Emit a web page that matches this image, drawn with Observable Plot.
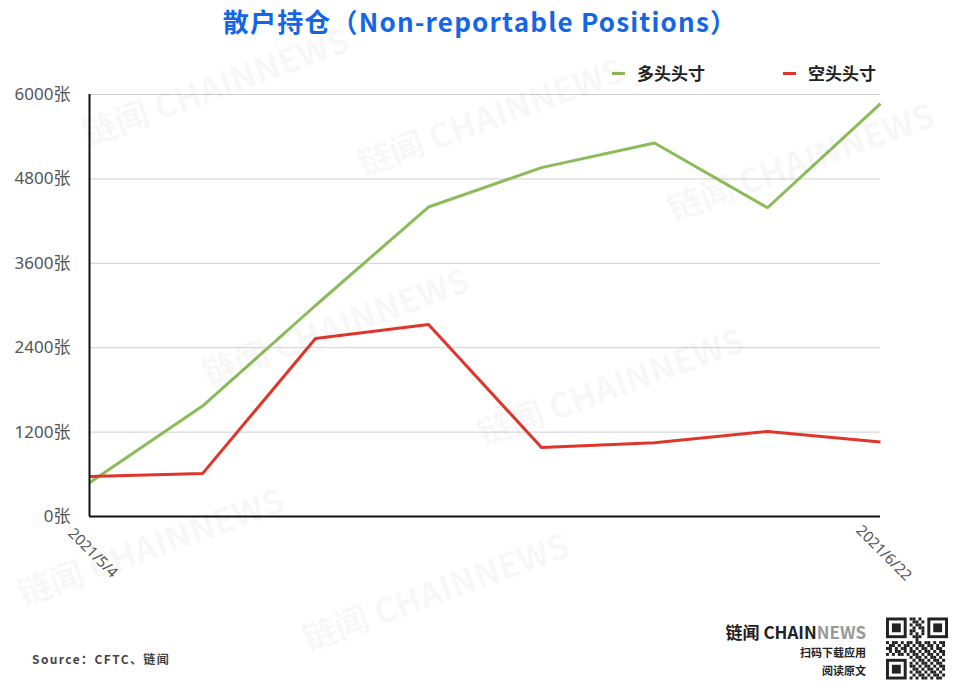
<!DOCTYPE html>
<html>
<head>
<meta charset="utf-8">
<script src="https://cdn.jsdelivr.net/npm/d3@7"></script>
<script src="https://cdn.jsdelivr.net/npm/@observablehq/plot@0.6"></script>
<style>
  html, body { margin: 0; padding: 0; background: #fff; }
  #wrap { position: relative; width: 960px; height: 693px; overflow: hidden; font-family: "Noto Sans CJK SC", "Noto Sans", sans-serif; }
  .abs { position: absolute; white-space: nowrap; }
  #title { left: 0; width: 960px; top: 2px; text-align: center; font-size: 26px; font-weight: 700; color: #1466e6; letter-spacing: 1.2px; }
  .leg { top: 60px; font-size: 17px; font-weight: 700; color: #222; }
  .sw { position: absolute; width: 13px; height: 3px; top: 72px; }
  .wm { position: absolute; font-size: 34px; font-weight: 700; color: rgba(0,0,0,0.045); transform: translate(-50%,-50%) rotate(-20deg); white-space: nowrap; font-family: "Noto Sans CJK SC", sans-serif; }
  #src { left: 32px; top: 650px; font-size: 12px; font-weight: 700; color: #444; letter-spacing: 1.4px; }
  #logo { right: 94px; top: 619px; font-size: 17px; font-weight: 700; color: #222; font-family: "Noto Sans CJK SC", Lato, sans-serif; }
  .sub { right: 94px; font-size: 11px; font-weight: 700; color: #222; }
  #qr { left: 886px; top: 617px; width: 62px; height: 63px; }
</style>
</head>
<body>
<div id="wrap">
  <div id="chart" class="abs" style="left:0;top:0"></div>
  <div id="title" class="abs">散户持仓（Non-reportable Positions）</div>
  <div class="sw" style="left:612px;background:#8cbb59"></div>
  <div class="abs leg" style="left:637px">多头头寸</div>
  <div class="sw" style="left:783px;background:#e0352b"></div>
  <div class="abs leg" style="left:808px">空头头寸</div>
  <div id="src" class="abs">Source：CFTC、链闻</div>
  <div id="logo" class="abs">链闻 CHAIN<span style="color:#999">NEWS</span></div>
  <div class="abs sub" style="top:644px">扫码下载应用</div>
  <div class="abs sub" style="top:662px">阅读原文</div>
  <svg id="qr" class="abs" viewBox="0 0 21 21"></svg>
</div>
<script>
// ---- data ----
const dates = ["2021-05-04","2021-05-11","2021-05-18","2021-05-25","2021-06-01","2021-06-08","2021-06-15","2021-06-22"];
const longPositions = [480, 1570, 3000, 4400, 4960, 5310, 4390, 5870];
const shortPositions = [570, 610, 2530, 2730, 980, 1050, 1210, 1060];
const seriesNames = ["多头头寸", "空头头寸"];
const seriesColors = ["#8cbb59", "#e0352b"];
const yTicks = [0, 1200, 2400, 3600, 4800, 6000];
const xTickDates = ["2021-05-04", "2021-06-22"];
const xTickLabels = ["2021/5/4", "2021/6/22"];

const parse = d3.utcParse("%Y-%m-%d");
const rows = [];
dates.forEach((d, i) => {
  rows.push({date: parse(d), value: longPositions[i], series: seriesNames[0]});
  rows.push({date: parse(d), value: shortPositions[i], series: seriesNames[1]});
});
const xTicks = xTickDates.map((d, i) => ({date: parse(d), label: xTickLabels[i]}));

const chart = Plot.plot({
  width: 960,
  height: 693,
  marginTop: 94,
  marginBottom: 177,
  marginLeft: 89,
  marginRight: 80,
  style: {fontFamily: "'Noto Sans', 'Noto Sans CJK SC', sans-serif", background: "transparent"},
  x: {type: "utc", domain: [parse(dates[0]), parse(dates[dates.length - 1])], axis: null},
  y: {domain: [0, 6000], axis: null},
  color: {domain: seriesNames, range: seriesColors},
  marks: [
    Plot.gridY(yTicks, {stroke: "#cfcfcf", strokeOpacity: 1, strokeWidth: 1}),
    Plot.axisY(yTicks, {tickSize: 0, tickPadding: 19, tickFormat: d => d + "张", fontSize: 17, fill: "#555", label: null}),
    Plot.lineY(rows, {x: "date", y: "value", stroke: "series", strokeWidth: 3, strokeLinejoin: "miter", strokeLinecap: "butt"}),
    Plot.ruleX([parse(dates[0])], {stroke: "#111", strokeWidth: 2}),
    Plot.ruleY([0], {stroke: "#111", strokeWidth: 2}),
    Plot.text(xTicks, {x: "date", text: "label", frameAnchor: "bottom", dy: 40, rotate: 45, textAnchor: "middle", fontSize: 15, fill: "#555"})
  ]
});
document.getElementById("chart").appendChild(chart);

// faint watermarks
const wmPos = [[215,85],[490,115],[800,160],[335,325],[610,385],[150,545],[435,590]];
const wrap = document.getElementById("wrap");
wmPos.forEach(([x, y]) => {
  const el = document.createElement("div");
  el.className = "wm";
  el.style.left = x + "px";
  el.style.top = y + "px";
  el.textContent = "链闻 CHAINNEWS";
  wrap.appendChild(el);
});

// QR-like decoration
const qr = d3.select("#qr");
const finder = (x, y) => {
  qr.append("rect").attr("x", x).attr("y", y).attr("width", 7).attr("height", 7).attr("fill", "#222");
  qr.append("rect").attr("x", x + 1).attr("y", y + 1).attr("width", 5).attr("height", 5).attr("fill", "#fff");
  qr.append("rect").attr("x", x + 2).attr("y", y + 2).attr("width", 3).attr("height", 3).attr("fill", "#222");
};
const pattern = [
  "00000000110100000000",
  "00000000011010000000",
  "00000000101100000000",
  "00000000010110000000",
  "00000000110010000000",
  "00000000101010000000",
  "00000000011100000000",
  "00000000001000000000",
  "10110101101101101011",
  "01101011010110110101",
  "11010110101011010110",
  "01011010110101101011",
  "10101101011010110101",
  "00000000101101011010",
  "00000000010110101101",
  "00000000101011010110",
  "00000000110101101011",
  "00000000011010110101",
  "00000000101101011010",
  "00000000010110101101",
  "00000000101011010110"
];
pattern.forEach((row, r) => {
  for (let c = 0; c < 21; c++) {
    const ch = row[c] || "0";
    if (ch === "1") qr.append("rect").attr("x", c).attr("y", r).attr("width", 1).attr("height", 1).attr("fill", "#222");
  }
});
finder(0, 0); finder(14, 0); finder(0, 14);
</script>
</body>
</html>
